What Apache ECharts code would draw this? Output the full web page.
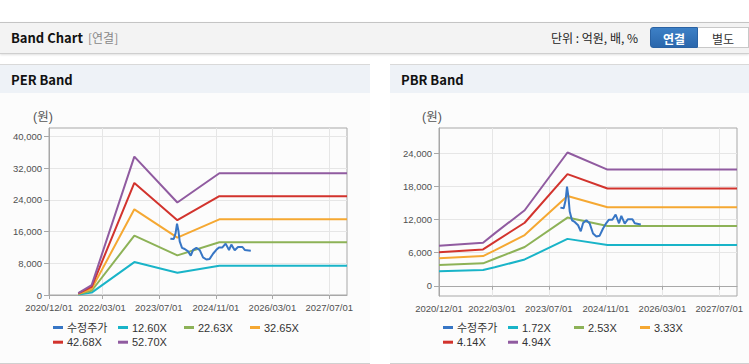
<!DOCTYPE html>
<html>
<head>
<meta charset="utf-8">
<script src="https://cdn.jsdelivr.net/npm/echarts@6/dist/echarts.min.js"></script>
<style>
html,body{margin:0;padding:0;width:749px;height:364px;overflow:hidden;background:#fff;font-family:'Liberation Sans','Noto Sans CJK KR',sans-serif;}
#topbar{position:absolute;left:0;top:22px;width:749px;height:30px;background:#f3f3f3;border-top:1px solid #c4c4c4;border-bottom:1px solid #cfcfcf;box-shadow:0 1px 2px rgba(0,0,0,0.12);}
#title{position:absolute;left:11px;top:6px;font-size:13px;font-weight:bold;color:#111;line-height:17px;font-family:'Noto Sans CJK KR',sans-serif;}
#sub{position:absolute;left:88px;top:6px;font-size:12px;color:#888;line-height:17px;font-family:'Noto Sans CJK KR',sans-serif;}
#unit{position:absolute;left:551px;top:6px;font-size:12px;color:#222;line-height:17px;font-family:'Noto Sans CJK KR',sans-serif;}
.btn{position:absolute;top:4px;height:21px;line-height:21px;font-size:12px;text-align:center;font-family:'Noto Sans CJK KR',sans-serif;box-sizing:border-box;}
#btn1{left:650px;width:48px;background:linear-gradient(#3d80c6,#2b67ac);color:#fff;font-weight:bold;border-radius:3px 0 0 3px;border:1px solid #2a62a3;}
#btn2{left:698px;width:51px;background:#fff;color:#333;border:1px solid #c8c8c8;border-left:none;}
.phead{position:absolute;top:64px;height:28px;background:#eef2f7;border-top:1px solid #d9d9d9;}
.ptitle{position:absolute;left:11px;top:6px;font-size:13px;font-weight:bold;color:#111;line-height:17px;font-family:'Noto Sans CJK KR',sans-serif;}
.pbody{position:absolute;top:93px;height:270px;background:#fcfcfc;border-bottom:1px solid #d0d0d0;}
</style>
</head>
<body>
<div id="topbar">
  <div id="title">Band Chart</div>
  <div id="sub">[연결]</div>
  <div id="unit">단위 : 억원, 배, %</div>
  <div class="btn" id="btn1">연결</div>
  <div class="btn" id="btn2">별도</div>
</div>
<div class="phead" style="left:0;width:370px;"><div class="ptitle">PER Band</div></div>
<div class="phead" style="left:390px;width:359px;"><div class="ptitle">PBR Band</div></div>
<div class="pbody" id="per" style="left:0;width:370px;"></div>
<div class="pbody" id="pbr" style="left:390px;width:359px;"></div>
<script>
// ---- axis ticks ----
const X_TICK_LABELS = ['2020/12/01','2022/03/01','2023/07/01','2024/11/01','2026/03/01','2027/07/01'];
const X_MIN = '2020-12-01';
const X_MAX = '2027-12-01';
const PER_Y_TICKS = [0, 8000, 16000, 24000, 32000, 40000];
const PBR_Y_TICKS = [0, 6000, 12000, 18000, 24000];

// ---- adjusted price (수정주가) ----
const PRICE_DATES = ['2023-10-08','2023-11-06','2023-11-22','2023-12-04','2023-12-16','2023-12-27',
  '2024-01-16','2024-02-08','2024-03-08','2024-03-31','2024-04-20','2024-05-18','2024-06-16',
  '2024-07-14','2024-08-12','2024-09-09','2024-10-08','2024-11-05','2024-11-28','2024-12-27',
  '2025-01-24','2025-02-22','2025-03-14','2025-04-12','2025-05-10','2025-06-17','2025-07-07','2025-08-28'];
const PRICE = [14200,14100,15600,18000,16200,13500,
  11900,11600,11000,9900,11400,11900,11300,
  9500,8950,9100,10400,11400,12000,12000,
  12950,11350,12700,11300,12100,12100,11350,11150];

// ---- PER band ----
const PER_NAMES = ['12.60X','22.63X','32.65X','42.68X','52.70X'];
const PER_DATES = ['2021-08-09','2021-12-02','2022-12-03','2023-12-07','2024-12-01','2027-12-01'];
const PER_12_60 = [120, 600, 8300, 5600, 7360, 7360];
const PER_22_63 = [215, 1070, 14980, 10000, 13300, 13300];
const PER_32_65 = [310, 1550, 21600, 14470, 19080, 19080];
const PER_42_68 = [400, 2030, 28250, 18850, 24900, 24900];
const PER_52_70 = [500, 2500, 34900, 23320, 30700, 30700];

// ---- PBR band ----
const PBR_NAMES = ['1.72X','2.53X','3.33X','4.14X','4.94X'];
const PBR_DATES = ['2020-12-01','2021-12-14','2022-03-24','2022-12-06','2023-12-08','2024-11-15','2027-12-01'];
const PBR_1_72 = [2620, 2850, 3350, 4780, 8520, 7420, 7420];
const PBR_2_53 = [3780, 4080, 4900, 7050, 12390, 10850, 10850];
const PBR_3_33 = [5000, 5400, 6450, 9220, 16320, 14280, 14280];
const PBR_4_14 = [6110, 6600, 7990, 11450, 20290, 17670, 17670];
const PBR_4_94 = [7260, 7810, 9520, 13720, 24220, 21120, 21120];

const PRICE_NAME = '수정주가';
const COLORS = ['#3776c5','#19b4c8','#8db257','#f5a832','#d2332d','#905ba0'];
const FONT = "'Liberation Sans','Noto Sans CJK KR',sans-serif";

function ts(s){ const p = s.split(/[-\/]/).map(Number); return new Date(p[0], p[1]-1, p[2]).getTime(); }
function pairs(dates, vals){ return dates.map((d,i)=>[ts(d), vals[i]]); }
function fmtDate(v){ const d = new Date(v); const m = d.getMonth()+1, dd = d.getDate();
  return d.getFullYear() + '/' + (m<10?'0':'') + m + '/' + (dd<10?'0':'') + dd; }
function fmtNum(v){ return String(Math.round(v)).replace(/\B(?=(\d{3})+(?!\d))/g, ','); }

function build(cfg){
  const xt = X_TICK_LABELS.map(ts);
  const names = [PRICE_NAME].concat(cfg.names);
  const series = [];
  cfg.bands.forEach((vals, i) => {
    series.push({ name: cfg.names[i], type:'line', data: pairs(cfg.dates, vals), showSymbol:false,
      symbol:'none', lineStyle:{ width:2, color: COLORS[i+1] }, itemStyle:{color: COLORS[i+1]}, z: 2 });
  });
  series.push({ name: PRICE_NAME, type:'line', data: pairs(PRICE_DATES, PRICE), showSymbol:false,
    symbol:'none', lineStyle:{ width:2, color: COLORS[0] }, itemStyle:{color: COLORS[0]}, z: 3 });
  const legPos = [[53,0],[118,0],[184,0],[250,0],[53,1],[118,1]];
  const legends = names.map((n, i) => ({
    left: legPos[i][0], top: 229 + legPos[i][1]*14.7, padding: 0,
    itemWidth: 10, itemHeight: 3, icon: 'rect', itemGap: 0,
    data: [n], selectedMode: false,
    textStyle: { fontSize: 11, color: '#333', fontFamily: FONT, padding: [0,0,0,-1] }
  }));
  return {
    animation: false,
    legend: legends,
    grid: { left: cfg.gl, top: cfg.gt, width: 298, height: cfg.gh, show: true,
            borderColor: '#a8a8a8', borderWidth: 1, containLabel: false },
    graphic: [{ type:'text', left: cfg.unitX, top: 18,
      style: { text: '(원)', fontSize: 12.5, fill: '#555', fontFamily: FONT } }],
    xAxis: { type:'value', min: ts(X_MIN), max: ts(X_MAX),
      axisLine: { show:true, lineStyle: { color:'#a8a8a8' } },
      axisTick: { show:true, customValues: xt, length: 4, lineStyle: { color:'#a8a8a8' } },
      axisLabel: { customValues: xt, formatter: fmtDate, fontSize: 9.5, color:'#505050', margin: 8, fontFamily: FONT },
      splitLine: { show:true, lineStyle: { color:'#e6e6e6' } } },
    yAxis: { type:'value', min: cfg.ymin, max: cfg.ymax,
      axisLine: { show:true, lineStyle: { color:'#a8a8a8' } },
      axisTick: { show:true, customValues: cfg.yticks, length: 5, lineStyle: { color:'#a8a8a8' } },
      axisLabel: { customValues: cfg.yticks, formatter: fmtNum, fontSize: 9.5, color:'#505050', margin: 7, fontFamily: FONT },
      splitLine: { show:true, lineStyle: { color:'#e6e6e6' } } },
    series: series
  };
}

const perChart = echarts.init(document.getElementById('per'), null, { renderer:'svg', width:370, height:270 });
perChart.setOption(build({ names: PER_NAMES, dates: PER_DATES,
  bands: [PER_12_60, PER_22_63, PER_32_65, PER_42_68, PER_52_70],
  gl: 49, gt: 35, gh: 167, ymin: 0, ymax: 42100, yticks: PER_Y_TICKS, unitX: 33 }));

const pbrChart = echarts.init(document.getElementById('pbr'), null, { renderer:'svg', width:359, height:270 });
pbrChart.setOption(build({ names: PBR_NAMES, dates: PBR_DATES,
  bands: [PBR_1_72, PBR_2_53, PBR_3_33, PBR_4_14, PBR_4_94],
  gl: 49, gt: 35, gh: 168, ymin: -1860, ymax: 28670, yticks: PBR_Y_TICKS, unitX: 32 }));
</script>
</body>
</html>
